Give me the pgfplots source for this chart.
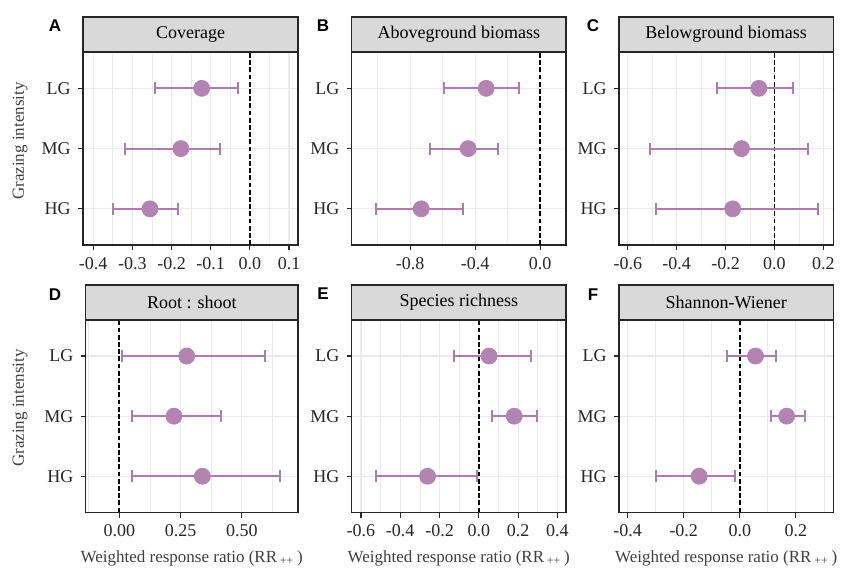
\documentclass[border=0pt]{standalone}
\usepackage{fontspec}
\setmainfont{Liberation Serif}
\newfontfamily\lettersf{Liberation Sans}
\usepackage{pgfplots}
\pgfplotsset{compat=1.18}
\usepackage{pgfplotstable}

\definecolor{ptcol}{HTML}{B383B3}
\definecolor{barcol}{HTML}{AF7AAF}
\definecolor{stripgray}{HTML}{D9D9D9}
\definecolor{gridgray}{HTML}{EBEBEB}

% columns: y (1=HG, 2=MG, 3=LG), lower CI, mean, upper CI
\pgfplotstableread{
y lo m hi
3 -0.243 -0.123 -0.031
2 -0.320 -0.176 -0.077
1 -0.350 -0.255 -0.183
}\tabA
\pgfplotstableread{
y lo m hi
3 -0.593 -0.332 -0.127
2 -0.675 -0.443 -0.257
1 -1.010 -0.732 -0.474
}\tabB
\pgfplotstableread{
y lo m hi
3 -0.237 -0.064 0.076
2 -0.509 -0.135 0.136
1 -0.486 -0.171 0.178
}\tabC
\pgfplotstableread{
y lo m hi
3 0.012 0.275 0.595
2 0.051 0.223 0.415
1 0.051 0.339 0.656
}\tabD
\pgfplotstableread{
y lo m hi
3 -0.126 0.052 0.265
2 0.068 0.180 0.295
1 -0.521 -0.261 -0.009
}\tabE
\pgfplotstableread{
y lo m hi
3 -0.045 0.056 0.130
2 0.110 0.167 0.234
1 -0.299 -0.145 -0.016
}\tabF

\pgfplotsset{
  panel/.style={
    scale only axis, anchor=south west,
    width=107.2pt, height=96.4pt,
    ymin=0.4, ymax=3.6, ytick={1,2,3}, yticklabels={HG,MG,LG},
    xtick pos=left, ytick pos=left,
    tick align=outside, major tick length=2.6pt, minor tick length=0pt,
    tick style={black!85, line width=0.6pt},
    axis line style={black!85, line width=0.7pt},
    grid=both,
    major grid style={gridgray, line width=0.6pt},
    minor grid style={gridgray, line width=0.35pt},
    every tick label/.append style={font=\fontsize{9}{10}\selectfont, text=black!85},
    clip=false,
  },
  ci/.style={only marks, mark=*, mark size=4pt, color=ptcol,
    error bars/.cd, x dir=both, x explicit,
    error bar style={line width=1pt, color=barcol},
    error mark options={rotate=90, mark size=3pt, line width=1pt, barcol}},
}
\newcommand\strip[1]{%
  \draw[fill=stripgray, draw=black!85, line width=0.7pt]
    (rel axis cs:0,1) rectangle ([yshift=17.5pt]rel axis cs:1,1);
  \node[font=\fontsize{9}{10}\selectfont] at ([yshift=8.75pt]rel axis cs:0.5,1) {#1};}
\newcommand\zero{\draw[black, line width=0.8pt, dash pattern=on 2.4pt off 1.2pt]
  (axis cs:0,0.4) -- (axis cs:0,3.6);}
\newcommand\ciplot[1]{\addplot[ci] table[x=m, y=y,
  x error plus expr=\thisrow{hi}-\thisrow{m},
  x error minus expr=\thisrow{m}-\thisrow{lo}] {#1};}

\begin{document}
\begin{tikzpicture}
\path (0pt,0pt) rectangle (422.5pt,-285pt);

% row 1
\begin{axis}[panel, at={(41.5pt,-122.5pt)}, width=107.5pt,
  xmin=-0.426, xmax=0.123, xtick={-0.4,-0.3,...,0.1},
  xticklabels={-0.4,-0.3,-0.2,-0.1,0.0,0.1},
  minor xtick={-0.35,-0.25,-0.15,-0.05,0.05}]
\zero
\ciplot{\tabA}
\strip{Coverage}
\end{axis}

\begin{axis}[panel, at={(175.85pt,-122.5pt)},
  xmin=-1.16, xmax=0.16, xtick={-0.8,-0.4,0},
  xticklabels={-0.8,-0.4,0.0},
  minor xtick={-1.0,-0.6,-0.2}]
\zero
\ciplot{\tabB}
\strip{Aboveground biomass}
\end{axis}

\begin{axis}[panel, at={(309.5pt,-122.5pt)},
  xmin=-0.636, xmax=0.241, xtick={-0.6,-0.4,-0.2,0,0.2},
  xticklabels={-0.6,-0.4,-0.2,0.0,0.2},
  minor xtick={-0.5,-0.3,-0.1,0.1}]
\zero
\ciplot{\tabC}
\strip{Belowground biomass}
\end{axis}

% row 2
\begin{axis}[panel, at={(42.85pt,-256.15pt)}, width=106.15pt, height=96.15pt,
  xmin=-0.137, xmax=0.729, xtick={0,0.25,0.5},
  xticklabels={0.00,0.25,0.50},
  minor xtick={-0.125,0.125,0.375,0.625}]
\zero
\ciplot{\tabD}
\strip{Root : shoot}
\end{axis}

\begin{axis}[panel, at={(175.85pt,-256.15pt)}, height=96.15pt,
  xmin=-0.647, xmax=0.444, xtick={-0.6,-0.4,-0.2,0,0.2,0.4},
  xticklabels={-0.6,-0.4,-0.2,0.0,0.2,0.4},
  minor xtick={-0.5,-0.3,-0.1,0.1,0.3}]
\zero
\ciplot{\tabE}
\strip{Species richness}
\end{axis}

\begin{axis}[panel, at={(309.5pt,-256.15pt)}, height=96.15pt,
  xmin=-0.431, xmax=0.334, xtick={-0.4,-0.2,0,0.2},
  xticklabels={-0.4,-0.2,0.0,0.2},
  minor xtick={-0.3,-0.1,0.1,0.3}]
\zero
\ciplot{\tabF}
\strip{Shannon-Wiener}
\end{axis}

% panel letters
\begin{scope}[every node/.style={font=\lettersf\bfseries\fontsize{8.5}{10}\selectfont}]
\node at (27.5pt,-13pt) {A};
\node at (161.5pt,-13pt) {B};
\node at (296.5pt,-13pt) {C};
\node at (27.5pt,-147.5pt) {D};
\node at (161.5pt,-147pt) {E};
\node at (296.5pt,-147.5pt) {F};
\end{scope}

% axis titles
\begin{scope}[every node/.style={font=\fontsize{8.5}{10}\selectfont, text=black!75}]
\node[rotate=90] at (10pt,-70.5pt) {Grazing intensity};
\node[rotate=90] at (10pt,-204pt) {Grazing intensity};
\node at (95.9pt,-279pt) {Weighted response ratio (RR\,\textsubscript{++}\,)};
\node at (229.4pt,-279pt) {Weighted response ratio (RR\,\textsubscript{++}\,)};
\node at (363.1pt,-279pt) {Weighted response ratio (RR\,\textsubscript{++}\,)};
\end{scope}
\end{tikzpicture}
\end{document}
